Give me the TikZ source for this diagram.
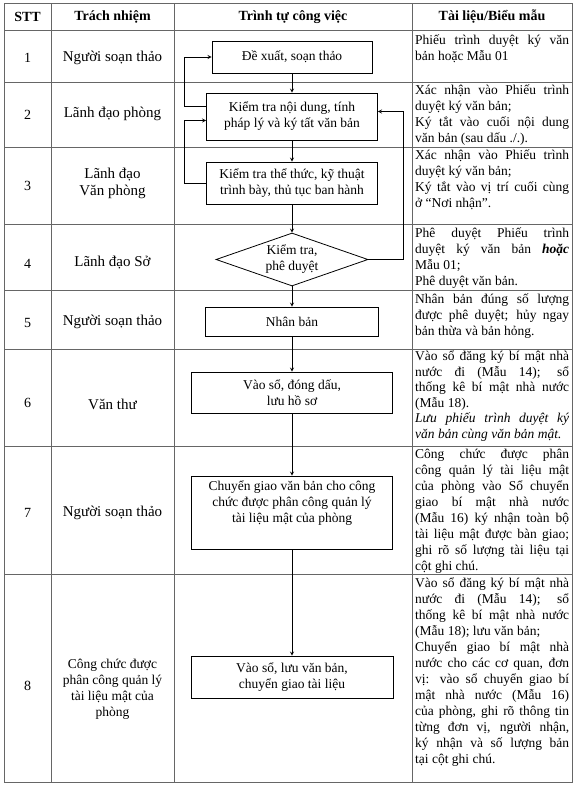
\documentclass[tikz,border=0pt]{standalone}
\usepackage{fontspec}
\setmainfont{Liberation Serif}
\usetikzlibrary{shapes.geometric}

\begin{document}
\begin{tikzpicture}[x=1pt, y=-1pt,
	grid/.style = {draw = black!60, line width = 0.8pt},
	stepbox/.style = {draw, line width = 0.8pt, align = center, inner sep = 0pt,
		font = \fontsize{13.5}{16}\selectfont},
	decide/.style = {stepbox, shape = diamond, aspect = 2.9},
	note/.style = {anchor = north west, inner sep = 0pt, text width = 154pt, align = justify,
		font = {\fontsize{13.5}{16}\selectfont\hyphenpenalty=10000 \tolerance=9999 }},
	role/.style = {align = center, font = \fontsize{15}{17}\selectfont},
	num/.style = {font = \fontsize{14}{16}\selectfont},
	head/.style = {font = \fontsize{14}{16}\selectfont\bfseries},
	arr/.style = {-stealth, line width = 0.8pt}]

			\useasboundingbox (0,0) rectangle (576,785);

			% table
			\begin{scope}
				\draw[grid] (4,3) rectangle (572,782);
				\foreach \x in {51,174,412}
					\draw[grid] (\x,3) -- (\x,782);
				\foreach \y in {30,82,147,224,290,349,446,574}
					\draw[grid] (4,\y) -- (572,\y);
			\end{scope}

			\node[head] (hstt) at (27.5,17) {STT};
			\node[head] (hrole) at (112.5,17) {Trách nhiệm};
			\node[head] (hflow) at (293,17) {Trình tự công việc};
			\node[head] (hdoc) at (492,17) {Tài liệu/Biểu mẫu};

			% numbers and roles
			\node[num] (num1) at (27.5,58) {1};
			\node[num] (num2) at (27.5,115) {2};
			\node[num] (num3) at (27.5,186) {3};
			\node[num] (num4) at (27.5,264) {4};
			\node[num] (num5) at (27.5,323) {5};
			\node[num] (num6) at (27.5,403) {6};
			\node[num] (num7) at (27.5,513) {7};
			\node[num] (num8) at (27.5,686) {8};

			\node[role] (role1) at (112.5,58) {Người soạn thảo};
			\node[role] (role2) at (112.5,114) {Lãnh đạo phòng};
			\node[role] (role3) at (112.5,183) {Lãnh đạo\\Văn phòng};
			\node[role] (role4) at (112.5,263) {Lãnh đạo Sở};
			\node[role] (role5) at (112.5,322) {Người soạn thảo};
			\node[role] (role6) at (112.5,404) {Văn thư};
			\node[role] (role7) at (112.5,513) {Người soạn thảo};
			\node[role, font = \fontsize{13.5}{16}\selectfont] (role8) at (112.5,689)
				{Công chức được\\phân công quản lý\\tài liệu mật của\\phòng};

			% flow
			\node[stepbox, minimum width = 160, minimum height = 32] (propose) at (292,57) {Đề xuất, soạn thảo};
			\node[stepbox, minimum width = 171, minimum height = 47] (checkcontent) at (292,116.5)
				{Kiểm tra nội dung, tính\\pháp lý và ký tất văn bản};
			\node[stepbox, minimum width = 171, minimum height = 42] (checkform) at (292,183)
				{Kiểm tra thể thức, kỹ thuật\\trình bày, thủ tục ban hành};
			\node[decide, minimum width = 152, minimum height = 53] (approve) at (292,259.5) {Kiểm tra,\\phê duyệt};
			\node[stepbox, minimum width = 173, minimum height = 29] (duplicate) at (292,321.5) {Nhân bản};
			\node[stepbox, minimum width = 201, minimum height = 41] (register) at (292,392.5)
				{Vào sổ, đóng dấu,\\lưu hồ sơ};
			\node[stepbox, minimum width = 201, minimum height = 73] (handover) at (292,512.5)
				{Chuyển giao văn bản cho công\\chức được phân công quản lý\\tài liệu mật của phòng\\ \strut};
			\node[stepbox, minimum width = 202, minimum height = 42] (archive) at (292,677)
				{Vào sổ, lưu văn bản,\\chuyển giao tài liệu};

			\draw[arr] (propose) -- (checkcontent);
			\draw[arr] (checkcontent) -- (checkform);
			\draw[arr] (checkform) -- (approve);
			\draw[arr] (approve) -- (duplicate);
			\draw[arr] (duplicate) -- (register);
			\draw[arr] (register) -- (handover);
			\draw[arr] (handover) -- (archive);

			\draw[arr] ([yshift = 10pt]checkcontent.west) -- ++(-22,0) |- (propose.west);
			\draw[arr] (checkform.west) -- ++(-22,0) |- ([yshift = -4pt]checkcontent.west);
			\draw[arr] (approve.east) -- ++(35,0) |- ([yshift = 5pt]checkcontent.east);

			% documents
			\node[note] (doc1) at (415,35) {Phiếu trình duyệt ký văn\linebreak bản hoặc Mẫu 01\par};
			\node[note] (doc2) at (415,85) {Xác nhận vào Phiếu trình\linebreak duyệt ký văn bản;\par
				Ký tắt vào cuối nội dung\linebreak văn bản (sau dấu ./.).\par};
			\node[note] (doc3) at (415,150) {Xác nhận vào Phiếu trình\linebreak duyệt ký văn bản;\par
				Ký tắt vào vị trí cuối cùng\linebreak ở “Nơi nhận”.\par};
			\node[note] (doc4) at (415,228) {Phê duyệt Phiếu trình\linebreak duyệt ký văn bản \textbf{\textit{hoặc}}\linebreak Mẫu 01;\par
				Phê duyệt văn bản.\par};
			\node[note] (doc5) at (415,294) {Nhân bản đúng số lượng\linebreak được phê duyệt; hủy ngay\linebreak bản thừa và bản hỏng.\par};
			\node[note, font = {\fontsize{13.5}{15.5}\selectfont\hyphenpenalty=10000 \tolerance=9999 }] (doc6) at (415,351)
				{Vào sổ đăng ký bí mật nhà\linebreak nước đi (Mẫu 14); sổ\linebreak thống kê bí mật nhà nước\linebreak (Mẫu 18).\par
				\textit{Lưu phiếu trình duyệt ký\linebreak văn bản cùng văn bản mật.}\par};
			\node[note] (doc7) at (415,449) {Công chức được phân\linebreak công quản lý tài liệu mật\linebreak của phòng vào Sổ chuyển\linebreak giao bí mật nhà nước\linebreak (Mẫu 16) ký nhận toàn bộ\linebreak tài liệu mật được bàn giao;\linebreak ghi rõ số lượng tài liệu tại\linebreak cột ghi chú.\par};
			\node[note] (doc8) at (415,578) {Vào sổ đăng ký bí mật nhà\linebreak nước đi (Mẫu 14); sổ\linebreak thống kê bí mật nhà nước\linebreak (Mẫu 18); lưu văn bản;\par
				Chuyển giao bí mật nhà\linebreak nước cho các cơ quan, đơn\linebreak vị: vào sổ chuyển giao bí\linebreak mật nhà nước (Mẫu 16)\linebreak của phòng, ghi rõ thông tin\linebreak từng đơn vị, người nhận,\linebreak ký nhận và số lượng bản\linebreak tại cột ghi chú.\par};
		\end{tikzpicture}
\end{document}
